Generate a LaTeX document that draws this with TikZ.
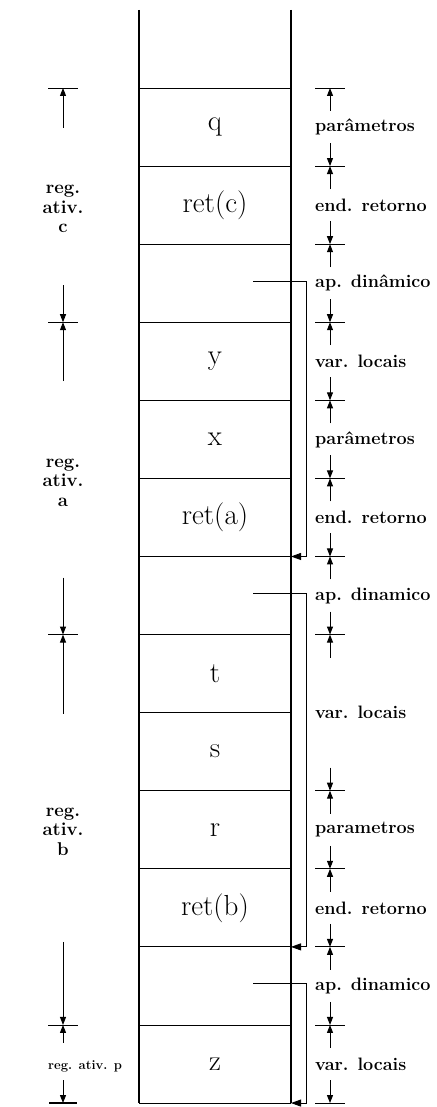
\documentclass[tikz,border=0pt]{standalone}
\usepackage{tikz}
\usetikzlibrary{arrows.meta,positioning}

\tikzset{
  wall/.style={line width=1.3pt},
  thickwall/.style={line width=2.2pt},
  cellline/.style={line width=0.9pt},
  cell/.style={font=\fontsize{29}{32}\selectfont},
  ptr/.style={line width=0.9pt,-{Triangle[length=10pt,width=7pt]}},
  dimline/.style={line width=0.9pt},
  dimarr/.style={line width=1pt,-{Triangle[length=8pt,width=6pt]}},
  rlabel/.style={anchor=west,inner sep=0pt,font=\bfseries\fontsize{18}{20}\selectfont},
  llabel/.style={align=center,inner sep=0pt,font=\bfseries\fontsize{18.5}{19.5}\selectfont},
  declare function={yb(\k)=88+78.08*\k;}
}

\begin{document}
\begin{tikzpicture}[x=1pt,y=-1pt]
\useasboundingbox (0,0) rectangle (436,1107);

% walls of the stack
\coordinate (topL) at (139,10);
\coordinate (topR) at (291,10);
\coordinate (botL) at (139,{yb(13)});
\coordinate (botR) at (291,{yb(13)});
\draw[wall] (topL) -- (botL);
\draw[thickwall] (topR) -- (botR);

% cell boundaries
\foreach \k in {0,...,13} {
    \coordinate (l\k) at (139,{yb(\k)});
    \coordinate (r\k) at (291,{yb(\k)});
    \draw[cellline] (l\k) -- (r\k);
}

% cell contents
\foreach \k/\t in {0/q,1/ret(c),3/y,4/x,5/ret(a),7/t,8/s,9/r,10/ret(b),12/z}
    \node[cell] (c\k) at (215,{yb(\k+0.5)}) {\t};

% dynamic links
\foreach \k/\j in {2/6,6/11,11/13} {
    \coordinate (ap\k) at (253,{yb(\k+0.5)-2});
    \draw[ptr] (ap\k) -- ++(53,0) |- (r\j);
}

% right dimension marks
\foreach \k in {0,...,13} {
    \coordinate (d\k) at (330,{yb(\k)});
}
\foreach \m in {d0,d1,d2,d3,d4,d5,d6,d7,d9,d10,d11,d12,d13} {
    \draw[dimline] (\m) ++(-15,0) -- ++(30,0);
}
\foreach \m in {d1,d2,d3,d4,d5,d6,d7,d9,d10,d11,d12,d13} {
    \draw[dimarr] (\m) ++(0,-23) -- (\m);
}
\foreach \m in {d0,d1,d2,d3,d4,d5,d6,d7,d9,d10,d11,d12} {
    \draw[dimarr] (\m) ++(0,23) -- (\m);
}

% right labels
\foreach \k/\t [count=\i] in {0/parâmetros,1/end. retorno,2/ap. dinâmico,3/var. locais,4/parâmetros,5/end. retorno,6/ap. dinamico,7.5/var. locais,9/parametros,10/end. retorno,11/ap. dinamico,12/var. locais}
    \node[rlabel] (lab\i) at (315,{yb(\k+0.5)}) {\t};

% left dimension marks
\foreach \k in {0,3,7,12,13} {
    \coordinate (e\k) at (63,{yb(\k)});
}
\foreach \m in {e0,e3,e7,e12} {
    \draw[dimline] (\m) ++(-15,0) -- ++(30,0);
}
\draw[line width=2pt] (e13) ++(-14,0) -- ++(28,0);
\foreach \m/\a in {e3/37,e7/57,e12/83,e13/23} {
    \draw[dimarr] (\m) ++(0,-\a) -- (\m);
}
\foreach \m/\b in {e0/40,e3/59,e7/79,e12/18} {
    \draw[dimarr] (\m) ++(0,\b) -- (\m);
}

% left labels
\node[llabel] (regc) at (63,{yb(1.5)+4}) {reg.\\ativ.\\c};
\node[llabel] (rega) at (63,{yb(5)+4}) {reg.\\ativ.\\a};
\node[llabel] (regb) at (63,{yb(9.5)+2}) {reg.\\ativ.\\b};
\node[inner sep=0pt,anchor=west,font=\bfseries\fontsize{13}{14}\selectfont] (regp) at (48,{yb(12.5)+2}) {reg. ativ. p};

\end{tikzpicture}
\end{document}
